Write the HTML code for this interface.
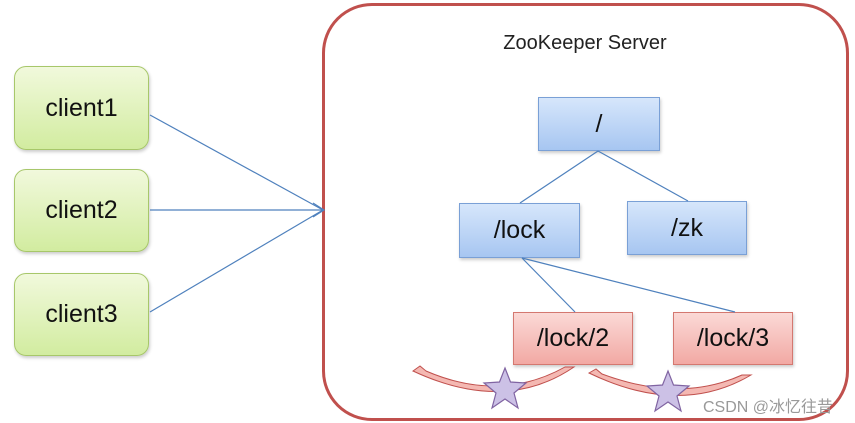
<!DOCTYPE html>
<html><head><meta charset="utf-8"><style>
body{margin:0;width:855px;height:423px;background:#fff;overflow:hidden;position:relative;font-family:"Liberation Sans","DejaVu Sans",sans-serif}
.b{position:absolute;box-sizing:border-box;display:flex;align-items:center;justify-content:center;font-size:25px;color:#111}
.g{background:linear-gradient(#f1f9dc,#d2eca0);border:1.5px solid #a7c76a;border-radius:12px;box-shadow:1px 2px 3px #ccc}
.bl{background:linear-gradient(#d6e6fb,#a7c6f1);border:1.5px solid #7aa0d6;box-shadow:1px 2px 3px #ccc}
.r{background:linear-gradient(#fbd9d6,#f2a9a4);border:1.5px solid #d47870;box-shadow:1px 2px 3px #ccc}
</style></head><body>
<div style="position:absolute;left:322px;top:3px;width:527px;height:418px;box-sizing:border-box;border:3px solid #c0504d;border-radius:50px"></div>
<div style="position:absolute;left:470px;top:32px;width:230px;text-align:center;font-size:20px;color:#222">ZooKeeper Server</div>
<div class="b g" style="left:14px;top:66px;width:135px;height:84px">client1</div>
<div class="b g" style="left:14px;top:169px;width:135px;height:83px">client2</div>
<div class="b g" style="left:14px;top:273px;width:135px;height:83px">client3</div>
<div class="b bl" style="left:538px;top:97px;width:122px;height:54px">/</div>
<div class="b bl" style="left:459px;top:203px;width:121px;height:55px">/lock</div>
<div class="b bl" style="left:627px;top:201px;width:120px;height:54px">/zk</div>
<div class="b r" style="left:513px;top:312px;width:120px;height:53px">/lock/2</div>
<div class="b r" style="left:673px;top:312px;width:120px;height:53px">/lock/3</div>
<svg width="855" height="423" style="position:absolute;left:0;top:0">
<g stroke="#4f81bd" stroke-width="1.2" fill="none">
<line x1="150" y1="115" x2="323" y2="210"/><line x1="150" y1="210" x2="323" y2="210"/><line x1="150" y1="312" x2="323" y2="210"/>
<polyline points="313,203 324,210 313,217"/>
<line x1="598" y1="151" x2="520" y2="203"/><line x1="598" y1="151" x2="688" y2="201"/>
<line x1="522" y1="258" x2="575" y2="312"/><line x1="522" y1="258" x2="735" y2="312"/>
</g>
<g fill="#f4b8b2" stroke="#c0504d" stroke-width="1">
<path d="M413,371 L420,366 L426,371 Q500,403 565,367 L574,367 Q505,414 413,371Z"/>
<path d="M589,373 L596,369 L602,374 Q680,403 742,375 L751,375 Q680,417 589,373Z"/>
</g>
<g fill="#ccc1e6" stroke="#8064a2" stroke-width="1.2">
<polygon points="505,368 510.5,382 526,383 514,393 518,408 505,399 492,408 496,393 484,383 499.5,382"/>
<polygon points="668,371 673.5,385 689,386 677,396 681,411 668,402 655,411 659,396 647,386 662.5,385"/>
</g>
<text x="703" y="412" font-size="16" fill="#999" font-family="Liberation Sans,Noto Sans CJK SC,sans-serif">CSDN @冰忆往昔</text>
</svg>
</body></html>
